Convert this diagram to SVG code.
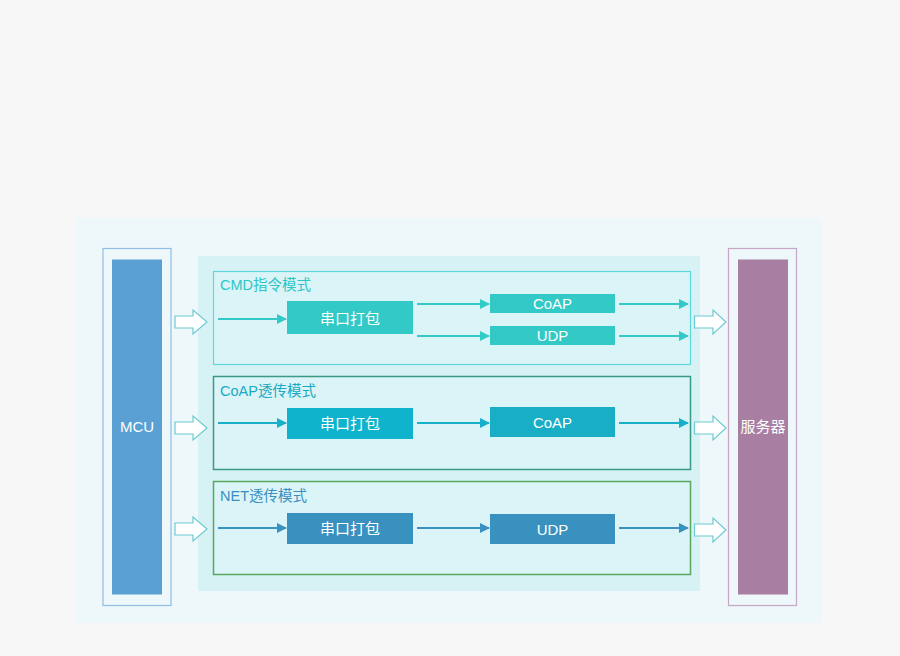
<svg xmlns="http://www.w3.org/2000/svg" width="900" height="656" viewBox="0 0 900 656">
<defs>
<style>
text{font-family:"Liberation Sans","Noto Sans CJK SC",sans-serif;font-size:14.5px}
.lbl{fill:#fff;text-anchor:middle;dominant-baseline:central;font-size:15px}
.hollow{fill:#fff;stroke:#6ccbd2;stroke-width:1.2}
</style>
<marker id="mA" viewBox="0 0 10 10" refX="9" refY="5" markerWidth="5" markerHeight="5" orient="auto" markerUnits="strokeWidth"><path d="M0,0L10,5L0,10z" fill="#33c9c6"/></marker>
<marker id="mB" viewBox="0 0 10 10" refX="9" refY="5" markerWidth="5" markerHeight="5" orient="auto" markerUnits="strokeWidth"><path d="M0,0L10,5L0,10z" fill="#17afc9"/></marker>
<marker id="mC" viewBox="0 0 10 10" refX="9" refY="5" markerWidth="5" markerHeight="5" orient="auto" markerUnits="strokeWidth"><path d="M0,0L10,5L0,10z" fill="#3991c0"/></marker>
</defs>
<rect width="900" height="656" fill="#f7f7f7"/>
<rect x="76" y="218" width="746" height="405" fill="#eef7f9"/>
<rect x="198" y="256" width="502" height="335" fill="#d7f2f5"/>

<g id="mcu">
<rect x="103" y="248.5" width="68" height="357" fill="none" stroke="#8fbfe6" stroke-width="1.2"/>
<rect x="112" y="259.5" width="50" height="335" fill="#5aa0d4"/>
<text class="lbl" x="137" y="426">MCU</text>
</g>
<g id="server">
<rect x="728.5" y="248.5" width="68" height="357" fill="none" stroke="#c7a7c6" stroke-width="1.2"/>
<rect x="738" y="259.5" width="50" height="335" fill="#a87fa3"/>
<text class="lbl" x="763" y="426">服务器</text>
</g>

<g id="cmd-mode">
<rect x="213.5" y="271.5" width="477" height="93" fill="#daf4f7" stroke="#5fd6da" stroke-width="1.2"/>
<text x="220" y="290" fill="#2ec5c5">CMD指令模式</text>
</g>
<g id="coap-mode">
<rect x="213.5" y="376.5" width="477" height="93" fill="#daf4f7" stroke="#3a9a86" stroke-width="1.5"/>
<text x="220" y="396" fill="#1aa9c4">CoAP透传模式</text>
</g>
<g id="net-mode">
<rect x="213.5" y="481.5" width="477" height="93" fill="#daf4f7" stroke="#5aa860" stroke-width="1.5"/>
<text x="220" y="501" fill="#3a8fc0">NET透传模式</text>
</g>

<g id="cmd-pack"><rect x="287" y="301" width="126" height="33" fill="#33c9c6"/><text class="lbl" x="350" y="318">串口打包</text></g>
<g id="cmd-coap"><rect x="490" y="294" width="125" height="19" fill="#33c9c6"/><text class="lbl" x="552.5" y="303.5">CoAP</text></g>
<g id="cmd-udp"><rect x="490" y="326" width="125" height="19" fill="#33c9c6"/><text class="lbl" x="552.5" y="335.5">UDP</text></g>

<g id="coap-pack"><rect x="287" y="408" width="126" height="31" fill="#10b3cc"/><text class="lbl" x="350" y="423.5">串口打包</text></g>
<g id="coap-coap"><rect x="490" y="407" width="125" height="30" fill="#18aec6"/><text class="lbl" x="552.5" y="422">CoAP</text></g>

<g id="net-pack"><rect x="287" y="513" width="126" height="31" fill="#3991c0"/><text class="lbl" x="350" y="528.5">串口打包</text></g>
<g id="net-udp"><rect x="490" y="514" width="125" height="30" fill="#3991c0"/><text class="lbl" x="552.5" y="529">UDP</text></g>

<g id="connectors">
<path class="hollow" d="M175,316H193V310L207,322L193,334V328H175Z"/>
<path class="hollow" d="M175,422H193V416L207,428L193,440V434H175Z"/>
<path class="hollow" d="M175,523H193V517L207,529L193,541V535H175Z"/>
<path class="hollow" d="M694.5,316H713V310L726,322L713,334V328H694.5Z"/>
<path class="hollow" d="M694.5,422H713V416L726,428L713,440V434H694.5Z"/>
<path class="hollow" d="M694.5,524H713V518L726,530L713,542V536H694.5Z"/>
<g stroke-width="2" fill="none">
<path d="M218,319H286" stroke="#33c9c6" marker-end="url(#mA)"/>
<path d="M417,304H489" stroke="#33c9c6" marker-end="url(#mA)"/>
<path d="M417,336H489" stroke="#33c9c6" marker-end="url(#mA)"/>
<path d="M619,304H688" stroke="#33c9c6" marker-end="url(#mA)"/>
<path d="M619,336H688" stroke="#33c9c6" marker-end="url(#mA)"/>
<path d="M218,423H286" stroke="#17afc9" marker-end="url(#mB)"/>
<path d="M417,423H489" stroke="#17afc9" marker-end="url(#mB)"/>
<path d="M619,423H688" stroke="#17afc9" marker-end="url(#mB)"/>
<path d="M218,528H286" stroke="#3991c0" marker-end="url(#mC)"/>
<path d="M417,528H489" stroke="#3991c0" marker-end="url(#mC)"/>
<path d="M619,528H688" stroke="#3991c0" marker-end="url(#mC)"/>
</g>
</g>
</svg>
